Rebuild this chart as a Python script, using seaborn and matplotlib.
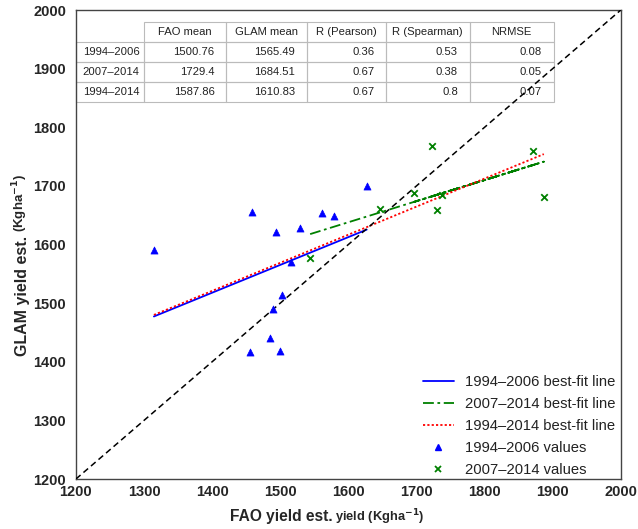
import numpy as np
import pandas as pd
import matplotlib
matplotlib.use("Agg")
import matplotlib.pyplot as plt
import seaborn as sns
from matplotlib.lines import Line2D

sns.set_style("white")
plt.rcParams['font.family'] = ['Liberation Sans', 'DejaVu Sans']

# ---- data ----
fao_9406 = [1314.5, 1458, 1494, 1529, 1561, 1579, 1627, 1516, 1502, 1489, 1485, 1455, 1500]
glam_9406 = [1591.5, 1656, 1621.5, 1629, 1654, 1648.5, 1699.5, 1570.5, 1514, 1490.5, 1441, 1417.5, 1419]
fao_0714 = [1543.9, 1646.2, 1887.0, 1696.9, 1870.8, 1723.0, 1737.2, 1729.5]
glam_0714 = [1576.5, 1660.5, 1681.5, 1688.0, 1759.0, 1767.5, 1684.0, 1659.5]

table_cols = ["FAO mean", "GLAM mean", "R (Pearson)", "R (Spearman)", "NRMSE"]
table_rows = ["1994\u20132006", "2007\u20132014", "1994\u20132014"]
table_vals = [["1500.76", "1565.49", "0.36", "0.53", "0.08"],
              ["1729.4", "1684.51", "0.67", "0.38", "0.05"],
              ["1587.86", "1610.83", "0.67", "0.8", "0.07"]]

ticks = [1200, 1300, 1400, 1500, 1600, 1700, 1800, 1900, 2000]

# ---- fits ----
fao_all = fao_9406 + fao_0714
glam_all = glam_9406 + glam_0714
p1 = np.polyfit(fao_9406, glam_9406, 1)
p2 = np.polyfit(fao_0714, glam_0714, 1)
p3 = np.polyfit(fao_all, glam_all, 1)

d1 = pd.DataFrame({"x": fao_9406, "y": np.polyval(p1, fao_9406)}).sort_values("x")
d2 = pd.DataFrame({"x": fao_0714, "y": np.polyval(p2, fao_0714)})
d3 = pd.DataFrame({"x": fao_all, "y": np.polyval(p3, fao_all)}).sort_values("x")
s1 = pd.DataFrame({"x": fao_9406, "y": glam_9406})
s2 = pd.DataFrame({"x": fao_0714, "y": glam_0714})
diag = pd.DataFrame({"x": [ticks[0], ticks[-1]], "y": [ticks[0], ticks[-1]]})

fig = plt.figure(figsize=(6.38, 5.29), dpi=100)
ax = fig.add_axes([0.119, 0.0945, 0.854, 0.8865])

sns.lineplot(data=diag, x="x", y="y", ax=ax, color="black", lw=1.1,
             linestyle=(0, (4, 2.5)), sort=False, estimator=None, zorder=5)
sns.lineplot(data=d1, x="x", y="y", ax=ax, color="#0000ff", lw=1.3,
             sort=False, estimator=None, zorder=3)
sns.lineplot(data=d2, x="x", y="y", ax=ax, color="#008000", lw=1.3,
             linestyle=(0, (6, 2, 1.5, 2)), sort=False, estimator=None, zorder=3)
sns.lineplot(data=d3, x="x", y="y", ax=ax, color="#ff0000", lw=1.3,
             linestyle=(0, (1.2, 1.2)), sort=False, estimator=None, zorder=4)
sns.scatterplot(data=s1, x="x", y="y", ax=ax, marker="^", color="#0000ff",
                s=26, edgecolor="#0000ff", linewidth=0.5, zorder=6)
sns.scatterplot(data=s2, x="x", y="y", ax=ax, marker="x", color="#008000",
                s=22, linewidth=1.3, zorder=6)

ax.set_xlim(ticks[0], ticks[-1])
ax.set_ylim(ticks[0], ticks[-1])
ax.set_xticks(ticks)
ax.set_yticks(ticks)
ax.set_xticklabels([str(t) for t in ticks], fontsize=10.5, fontweight="bold")
ax.set_yticklabels([str(t) for t in ticks], fontsize=10.5, fontweight="bold")
ax.tick_params(axis="x", direction="in", length=4, width=0.8, color="#444444", pad=4)
ax.tick_params(axis="y", direction="out", length=4, width=0.8, color="#444444", pad=3)
ax.set_xlabel("")
ax.set_ylabel("")
for sp in ax.spines.values():
    sp.set_color("#444444")
    sp.set_linewidth(1.0)

# ---- table ----
tbl = ax.table(cellText=table_vals, rowLabels=table_rows, colLabels=table_cols,
               bbox=[0.0123 + 0.113, 0.8045, 0.8645 - 0.113, 0.1705],
               cellLoc="right", colLoc="center", rowLoc="left")
tbl.auto_set_font_size(False)
widths = [0.150, 0.148, 0.1455, 0.154, 0.154]
for (r, c), cell in tbl.get_celld().items():
    cell.set_facecolor("none")
    cell.set_edgecolor("#bbbbbb")
    cell.set_linewidth(0.8)
    cell.get_text().set_fontsize(8.1)
    cell.get_text().set_color("#222222")
    if c == -1:
        cell.set_width(0.106)
        cell.PAD = 0.1
    else:
        cell.set_width(widths[c])
        cell.PAD = 0.14
tbl.set_zorder(2)

# ---- legend ----
handles = [
    Line2D([], [], color="#0000ff", lw=1.3),
    Line2D([], [], color="#008000", lw=1.3, linestyle=(0, (6, 2, 1.5, 2))),
    Line2D([], [], color="#ff0000", lw=1.3, linestyle=(0, (1.2, 1.2))),
    Line2D([], [], color="#0000ff", marker="^", linestyle="none", markersize=5),
    Line2D([], [], color="#008000", marker="x", linestyle="none", markersize=4.5, mew=1.3),
]
labels = ["1994\u20132006 best-fit line", "2007\u20132014 best-fit line",
          "1994\u20132014 best-fit line", "1994\u20132006 values", "2007\u20132014 values"]
leg = ax.legend(handles, labels, loc="lower right", bbox_to_anchor=(1.01, -0.018),
                frameon=False, fontsize=10.6, handlelength=2.1, handletextpad=0.8,
                labelspacing=0.54, borderaxespad=0.3)
for t in leg.get_texts():
    t.set_color("#222222")

# ---- axis labels (mixed sizes) ----
fig.canvas.draw()
r = fig.canvas.get_renderer()
W, H = fig.get_size_inches() * fig.dpi
t1 = fig.text(230 / W, 1 - 521 / H, "FAO yield est.", fontsize=11.2, fontweight="bold",
              ha="left", va="baseline")
bb = t1.get_window_extent(r)
fig.text((bb.x1 + 2.5) / W, 1 - 521 / H, "yield (Kgha$^{\\mathbf{-1}}$)", fontsize=9.3,
         fontweight="bold", ha="left", va="baseline")
t2 = fig.text(30 / W, 1 - 356 / H, "GLAM yield est.", fontsize=11.5, fontweight="bold",
              ha="left", va="bottom", rotation=90, rotation_mode="anchor")
bb2 = t2.get_window_extent(r)
fig.text(30 / W, (bb2.y1 + 4) / H, "(Kgha$^{\\mathbf{-1}}$)", fontsize=9.5,
         fontweight="bold", ha="left", va="bottom", rotation=90, rotation_mode="anchor")

fig.savefig("out.png", dpi=100)
